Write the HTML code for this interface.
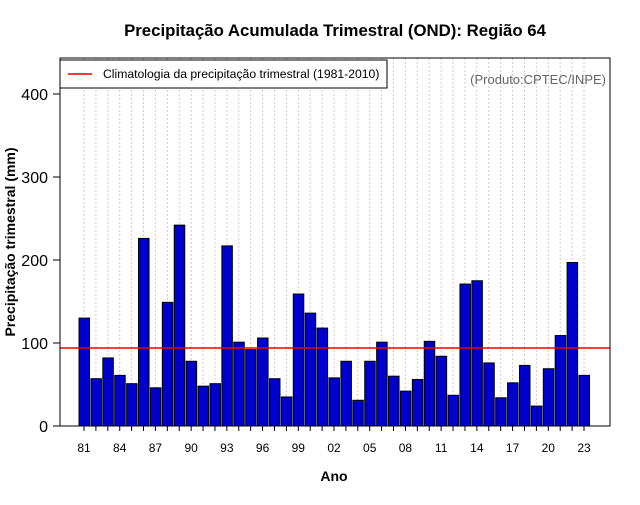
<!DOCTYPE html>
<html><head><meta charset="utf-8"><style>
body{margin:0;background:#fff;width:640px;height:500px;overflow:hidden}
svg{font-family:"Liberation Sans",sans-serif}
</style></head><body>
<svg id="c" width="640" height="500">
<text x="335" y="36" text-anchor="middle" font-size="16.8" font-weight="bold">Precipitação Acumulada Trimestral (OND): Região 64</text>
<g id="grid"></g><g id="bars"></g><g id="axes"></g>
<rect x="60" y="58" width="550" height="368" fill="none" stroke="#000"/>
<text x="334" y="481" text-anchor="middle" font-size="14" font-weight="bold">Ano</text>
<text transform="translate(15,242) rotate(-90)" text-anchor="middle" font-size="14" font-weight="bold">Precipitação trimestral (mm)</text>
<g>
<rect x="60" y="60" width="327" height="28" fill="#fff" stroke="#000"/>
<line x1="68" y1="74" x2="92" y2="74" stroke="#e00" stroke-width="1.5"/>
<text x="103" y="78" font-size="12.2">Climatologia da precipitação trimestral (1981-2010)</text>
</g>
<text x="606" y="84" text-anchor="end" font-size="13" fill="#666">(Produto:CPTEC/INPE)</text>
</svg>
<script>
const years=[];for(let y=1981;y<=2023;y++)years.push(y);
const values=[130,57,82,61,51,226,46,149,242,78,48,51,217,101,92,106,57,35,159,136,118,58,78,31,78,101,60,42,56,102,84,37,171,175,76,34,52,73,24,69,109,197,61];
const climatology=94;
const yTicks=[0,100,200,300,400];
const NS='http://www.w3.org/2000/svg';
const X=y=>84+(y-1981)*11.905;
const Y=v=>426-v*0.83;
function mk(t,a,p){const e=document.createElementNS(NS,t);for(const k in a)e.setAttribute(k,a[k]);document.getElementById(p).appendChild(e);return e;}
years.forEach((yr,i)=>{
 const g=mk('line',{x1:X(yr),x2:X(yr),y1:58,y2:426,stroke:'#ccc','stroke-dasharray':'2,2'},'grid');
 
 
 const b=mk('rect',{x:X(yr)-5,y:Y(values[i]),width:10.5,height:426-Y(values[i]),fill:'#0000cd',stroke:'#000','stroke-width':1},'bars');
 
 
 const t=mk('line',{x1:X(yr),x2:X(yr),y1:426,y2:431,stroke:'#000'},'axes');
 
 
 if((yr-1981)%3===0){
  const l=mk('text',{x:X(yr),y:452,'text-anchor':'middle','font-size':12},'axes');
  l.textContent=String(yr%100).padStart(2,'0');
  
  
 }
});
yTicks.forEach(v=>{
 const t=mk('line',{x1:53,x2:60,y1:Y(v),y2:Y(v),stroke:'#000'},'axes');
 
 
 const l=mk('text',{x:48,y:Y(v)+6,'text-anchor':'end','font-size':16},'axes');
 l.textContent=v;
 
 
});
const cl=mk('line',{x1:60,x2:610,y1:Y(climatology),y2:Y(climatology),stroke:'#e00','stroke-width':1.5},'axes');


</script>
</body></html>
